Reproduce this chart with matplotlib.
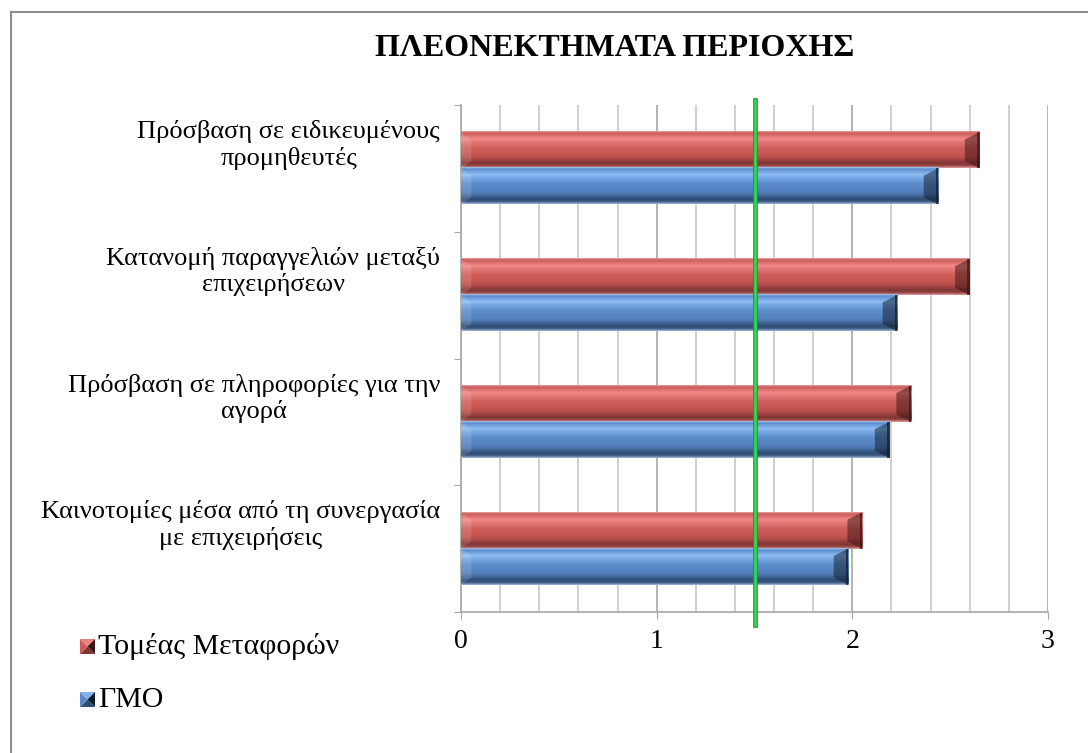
import numpy as np
import matplotlib.pyplot as plt
from matplotlib.lines import Line2D
from matplotlib.patches import Polygon
from matplotlib.colors import LinearSegmentedColormap

# ========= 数据 =========
categories = [
    "Πρόσβαση σε ειδικευμένους\nπρομηθευτές",
    "Κατανομή παραγγελιών μεταξύ\nεπιχειρήσεων",
    "Πρόσβαση σε πληροφορίες για την\nαγορά",
    "Καινοτομίες μέσα από τη συνεργασία\nμε επιχειρήσεις",
]
transport = [2.65, 2.60, 2.30, 2.05]   # Τομέας Μεταφορών
gmo = [2.44, 2.23, 2.19, 1.98]         # ΓΜΟ
threshold = 1.5
series_names = ["Τομέας Μεταφορών", "ΓΜΟ"]
title = "ΠΛΕΟΝΕΚΤΗΜΑΤΑ ΠΕΡΙΟΧΗΣ"

plt.rcParams["font.family"] = ["Liberation Serif", "DejaVu Serif"]

fig = plt.figure(figsize=(10.88, 7.53), dpi=100)
ax = fig.add_axes([461 / 1088, 1 - 612 / 753, 587 / 1088, 507 / 753])

# ========= 立体条形的渐变 (从上到下) =========
red_profile = ["#E9A3A1", "#C65A57", "#F28A88", "#E27875", "#CE5E5B", "#C95754",
               "#B84E4B", "#7E3533", "#9A4846", "#E3A19F"]
blue_profile = ["#A9C6EC", "#5A8BCB", "#8FBFF4", "#75A5E2", "#5C8CCA", "#5786C4",
                "#4E79B2", "#2E4B72", "#415F88", "#A5BEDF"]
pos = [0.0, 0.04, 0.2, 0.3, 0.45, 0.6, 0.72, 0.88, 0.95, 1.0]

styles = [
    (LinearSegmentedColormap.from_list("r", list(zip(pos, red_profile))), "#C0504D", "#3A1414"),
    (LinearSegmentedColormap.from_list("b", list(zip(pos, blue_profile))), "#4F81BD", "#101C2C"),
]

h = 0.285
y = np.arange(len(categories))
offsets = [-h / 2, h / 2]
grad = np.linspace(0, 1, 64).reshape(-1, 1)
bev = 0.075


def bevel_bar(ax, yc, w, cmap, base, dark):
    top, bot = yc - h / 2, yc + h / 2
    ax.imshow(grad, cmap=cmap, aspect="auto", extent=(0, w, bot, top),
              interpolation="bicubic", zorder=3)
    # 右端暗面
    ax.add_patch(Polygon([(w - bev, top + h * 0.2), (w, top), (w, bot), (w - bev, bot - h * 0.2)],
                         closed=True, facecolor=dark, alpha=0.5, edgecolor="none", zorder=4))
    ax.add_patch(Polygon([(w - 0.012, top), (w, top), (w, bot), (w - 0.012, bot)],
                         closed=True, facecolor=dark, alpha=0.7, edgecolor="none", zorder=4))
    # 左端亮面
    ax.add_patch(Polygon([(0, top), (bev * 0.7, top + h * 0.2), (bev * 0.7, bot - h * 0.2), (0, bot)],
                         closed=True, facecolor="white", alpha=0.12, edgecolor="none", zorder=4))


for vals, off, st in zip([transport, gmo], offsets, styles):
    for yi, v in zip(y, vals):
        bevel_bar(ax, yi + off, v, *st)

ax.set_ylim(len(categories) - 0.5, -0.5)
ax.set_xlim(0, 3)

# 网格
ax.set_xticks([0, 1, 2, 3])
ax.set_xticks(np.arange(0, 3.01, 0.2), minor=True)
ax.xaxis.grid(True, which="minor", color="#C8C8C8", linewidth=1.2, zorder=0)
ax.xaxis.grid(True, which="major", color="#A6A6A6", linewidth=1.2, zorder=0)
ax.set_axisbelow(True)
ax.tick_params(axis="x", which="major", length=5, color="#A6A6A6", labelsize=20, pad=7)
ax.tick_params(axis="x", which="minor", length=0)

ax.set_yticks(np.arange(-0.5, len(categories), 1.0))
ax.set_yticklabels([])
ax.tick_params(axis="y", length=5, color="#A6A6A6")

for s in ["top", "right"]:
    ax.spines[s].set_visible(False)
for s in ["left", "bottom"]:
    ax.spines[s].set_color("#A6A6A6")
    ax.spines[s].set_linewidth(1.2)

# 类别标签
label_x = (440 - 461) / 587
for yi, lab in zip(y, categories):
    ax.text(label_x, yi - 0.185, lab, ha="right", va="center", multialignment="center",
            fontsize=19, linespacing=1.2, transform=ax.get_yaxis_transform())

# 阈值线
ax.axvline(threshold, ymin=-0.025, ymax=1.01, color="#1A9A30", linewidth=3.4, zorder=6, clip_on=False)
ax.axvline(threshold, ymin=-0.025, ymax=1.01, color="#2EE050", linewidth=1.8, zorder=7, clip_on=False)

fig.text(615 / 1088, 1 - 48 / 753, title, ha="center", va="center",
         fontsize=23, fontweight="bold")

# 图例
for (cmap, base, dark), name, yy in zip(styles, series_names, [647, 700]):
    x0, y0, s = 80, yy - 8, 15
    pts = lambda p: [(px / 1088, 1 - py / 753) for px, py in p]
    c = (x0 + s / 2, y0 + s / 2)
    faces = [
        ([(x0, y0), (x0 + s, y0), c], cmap(0.25)),
        ([(x0, y0 + s), (x0 + s, y0 + s), c], cmap(0.88)),
        ([(x0, y0), (x0, y0 + s), c], cmap(0.5)),
        ([(x0 + s, y0), (x0 + s, y0 + s), c], dark),
    ]
    for poly, col in faces:
        fig.patches.append(Polygon(pts(poly), closed=True, transform=fig.transFigure,
                                   facecolor=col, edgecolor="none"))
    fig.text(98 / 1088, 1 - yy / 753, name, ha="left", va="center", fontsize=21.5)

# 外框
fig.add_artist(Line2D([11 / 1088, 1], [1 - 12 / 753, 1 - 12 / 753], transform=fig.transFigure,
                      color="#8C8C8C", linewidth=1.5))
fig.add_artist(Line2D([11 / 1088, 11 / 1088], [0, 1 - 12 / 753], transform=fig.transFigure,
                      color="#8C8C8C", linewidth=1.5))

fig.savefig("out.png", dpi=100)
